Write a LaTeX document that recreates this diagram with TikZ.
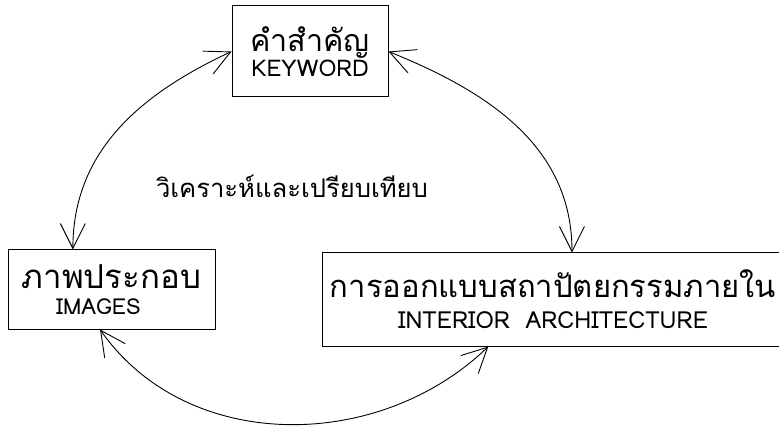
\documentclass[tikz,border=0pt]{standalone}
\usepackage{fontspec}
\newfontfamily\thaifont[Script=Thai]{Loma}
\usetikzlibrary{arrows.meta}

\tikzset{
	box/.style={draw, line width=1pt, rectangle, align=center, inner sep=0pt},
	link/.style={line width=0.9pt, {Straight Barb[length=25pt,width=25pt]}-{Straight Barb[length=25pt,width=25pt]}}
}

\begin{document}
\begin{tikzpicture}[x=1pt, y=1pt]
		%%%%% START %%%%%
		\useasboundingbox (0, 0) rectangle (779, 426);
		
		\node[box, minimum width=156, minimum height=91, font=\thaifont\fontsize{30.5}{25}\selectfont] (keyword) at (310, 374.5)
			{คำสำคัญ\\{\fontsize{23}{25}\selectfont KEYWORD}};
		\node[box, minimum width=207, minimum height=79, font=\thaifont\fontsize{33}{26}\selectfont] (images) at (111.5, 136.5)
			{ภาพประกอบ\\{\fontsize{22}{26}\selectfont IMAGES\hspace*{26pt}}};
		\node[box, minimum width=462, minimum height=93, font=\thaifont\fontsize{31}{31}\selectfont] (interior) at (553, 126.5)
			{การออกแบบสถาปัตยกรรมภายใน\\{\fontsize{23.5}{31}\selectfont INTERIOR\ \ ARCHITECTURE}};
		
		\node[font=\thaifont\fontsize{25.6}{28}\selectfont] (analysis) at (292, 240) {วิเคราะห์และเปรียบเทียบ};
		
		\draw[link] (keyword.west) to[out=205, in=90] (images.134);
		\draw[link] (keyword.east) to[out=-22, in=90] (interior.68);
		\draw[link] (images.-106) to[out=-55, in=-136] (interior.-144);
		
		%%%%% END %%%%%
	\end{tikzpicture}
\end{document}
